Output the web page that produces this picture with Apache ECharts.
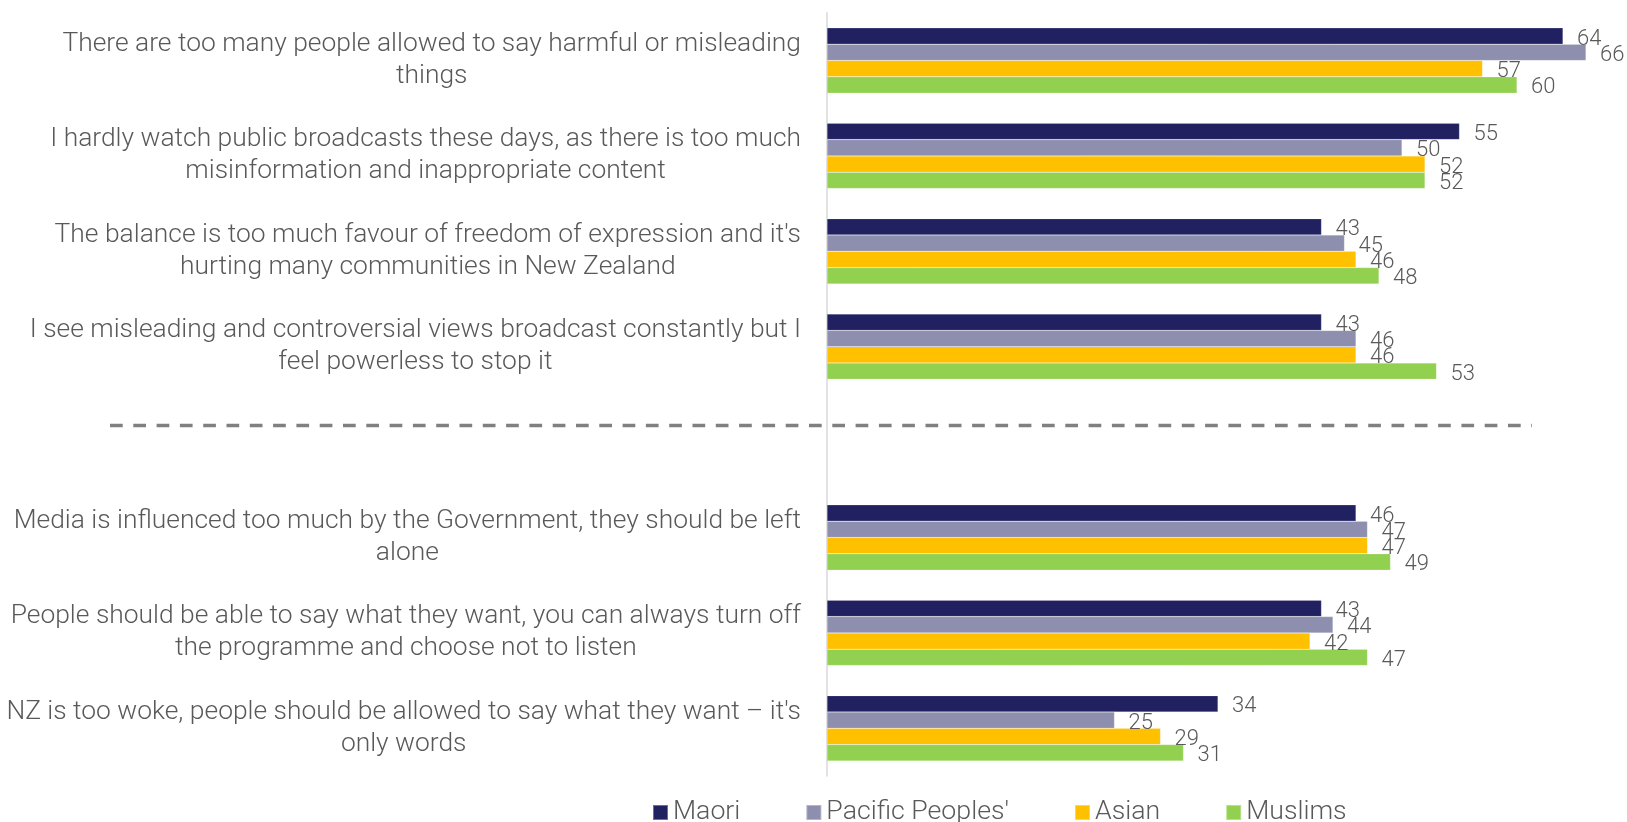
<!DOCTYPE html>
<html>
<head>
<meta charset="utf-8">
<title>Attitudes to broadcasting content by community</title>
<script src="https://cdn.jsdelivr.net/npm/echarts@6/dist/echarts.min.js"></script>
<style>
  html, body { margin: 0; padding: 0; background: #ffffff; }
  #chart { width: 1627px; height: 822px; }
</style>
</head>
<body>
<div id="chart"></div>
<script>
// Statements, top to bottom; the empty entry leaves room for the separator line
const categories = [
  "There are too many people allowed to say harmful or misleading\nthings",
  "I hardly watch public broadcasts these days, as there is too much\nmisinformation and inappropriate content",
  "The balance is too much favour of freedom of expression and it's\nhurting many communities in New Zealand",
  "I see misleading and controversial views broadcast constantly but I\nfeel powerless to stop it",
  "",
  "Media is influenced too much by the Government, they should be left\nalone",
  "People should be able to say what they want, you can always turn off\nthe programme and choose not to listen",
  "NZ is too woke, people should be allowed to say what they want \u2013 it's\nonly words"
];

const seriesNames = ["Maori", "Pacific Peoples'", "Asian", "Muslims"];

// Percent agreeing, per community
const maori   = [64, 55, 43, 43, null, 46, 43, 34];
const pacific = [66, 50, 45, 46, null, 47, 44, 25];
const asian   = [57, 52, 46, 46, null, 47, 42, 29];
const muslims = [60, 52, 48, 53, null, 49, 47, 31];

const colors = ["#212162", "#8e8fae", "#ffc000", "#92d050"];
const seriesData = [maori, pacific, asian, muslims];

const FONT = "Roboto";
const TEXT = "#595959";

const chart = echarts.init(document.getElementById("chart"), null, { renderer: "canvas" });

const series = seriesNames.map((name, i) => ({
  name: name,
  type: "bar",
  data: seriesData[i],
  barGap: "0%",
  barCategoryGap: "31.6%",
  itemStyle: { color: colors[i], borderColor: "rgba(255,255,255,0.35)", borderWidth: 0.5 },
  label: {
    show: true,
    position: "right",
    distance: 14,
    offset: [0, 3],
    color: TEXT,
    fontFamily: FONT,
    fontWeight: 300,
    fontSize: 22,
    formatter: p => (p.value == null ? "" : String(p.value))
  },
  emphasis: { disabled: true },
  animation: false
}));

chart.setOption({
  animation: false,
  backgroundColor: "#ffffff",
  textStyle: { fontFamily: FONT },
  grid: { left: 827, right: 18, top: 12.8, bottom: 46, containLabel: false },
  xAxis: {
    type: "value",
    min: 0,
    max: 68,
    show: false
  },
  yAxis: {
    type: "category",
    data: categories,
    inverse: true,
    axisLine: { show: true, lineStyle: { color: "#d9d9d9", width: 1.5 } },
    axisTick: { show: false },
    splitLine: { show: false },
    axisLabel: {
      margin: 26,
      color: TEXT,
      fontFamily: FONT,
      fontWeight: 300,
      fontSize: 26.4,
      lineHeight: 32,
      formatter: v => v ? v.split("\n").map(s => "{c|" + s + "}").join("\n") : "",
      rich: {
        c: { align: "center", color: TEXT, fontFamily: FONT, fontWeight: 300, fontSize: 26.4, lineHeight: 32 }
      }
    }
  },
  legend: {
    data: seriesNames,
    left: 652,
    top: 799,
    padding: 0,
    icon: "rect",
    itemWidth: 15,
    itemHeight: 15,
    itemGap: 65,
    textStyle: { color: TEXT, fontFamily: FONT, fontWeight: 300, fontSize: 26.7 },
    selectedMode: false
  },
  // Dashed separator between the two groups of statements
  graphic: [{
    type: "line",
    silent: true,
    shape: { x1: 110, y1: 425.5, x2: 1532, y2: 425.5 },
    style: { stroke: "#808080", lineWidth: 3.7, lineDash: [12.7, 10.6] }
  }],
  series: series
});
</script>
</body>
</html>
